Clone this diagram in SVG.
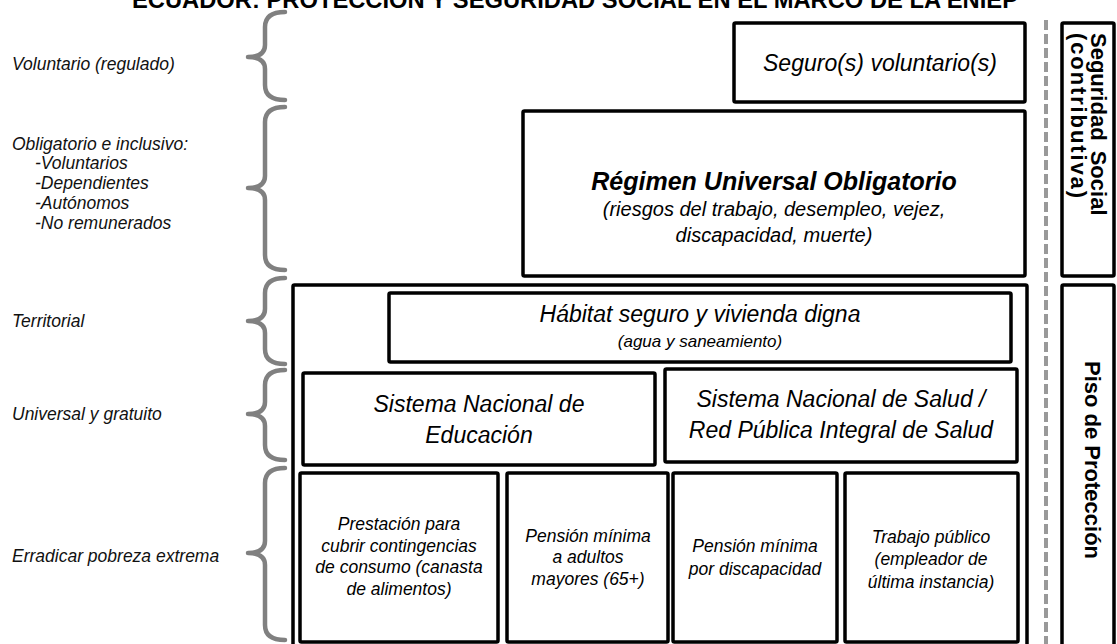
<svg xmlns="http://www.w3.org/2000/svg" width="1117" height="644" viewBox="0 0 1117 644">
<style>
.bx{fill:#fff;stroke:#000;stroke-width:3.5}
.t{font-family:"Liberation Sans",Arial,sans-serif;font-style:italic;fill:#000}
.lbl{font-family:"Liberation Sans",Arial,sans-serif;font-style:italic;font-size:17.5px;fill:#111}
.br{fill:none;stroke:#808080;stroke-width:4.5;stroke-linecap:round;stroke-linejoin:round}
.vt{font-family:"Liberation Sans",Arial,sans-serif;font-weight:bold;font-size:22px;fill:#000}
.m{text-anchor:middle}
</style>
<rect width="1117" height="644" fill="#fff"/>
<text x="132" y="8" font-family="'Liberation Sans',Arial,sans-serif" font-weight="bold" font-size="23.5" textLength="886" lengthAdjust="spacingAndGlyphs">ECUADOR: PROTECCIÓN Y SEGURIDAD SOCIAL EN EL MARCO DE LA ENIEP</text>

<g id="labels">
<text class="lbl" x="12" y="70">Voluntario (regulado)</text>
<text class="lbl" x="12" y="150">Obligatorio e inclusivo:</text>
<text class="lbl" x="35" y="169">-Voluntarios</text>
<text class="lbl" x="35" y="189">-Dependientes</text>
<text class="lbl" x="35" y="209">-Autónomos</text>
<text class="lbl" x="35" y="229">-No remunerados</text>
<text class="lbl" x="12" y="327">Territorial</text>
<text class="lbl" x="12" y="420">Universal y gratuito</text>
<text class="lbl" x="12" y="562">Erradicar pobreza extrema</text>
</g>

<g id="braces">
<path class="br" d="M285,12 Q265,12 265,27 L265,45 Q265,57 248,57 Q265,57 265,69 L265,85 Q265,100 285,100"/>
<path class="br" d="M285,107 Q265,107 265,122 L265,176 Q265,188 248,188 Q265,188 265,200 L265,255 Q265,270 285,270"/>
<path class="br" d="M285,278 Q265,278 265,293 L265,309 Q265,321 248,321 Q265,321 265,333 L265,349 Q265,364 285,364"/>
<path class="br" d="M285,370 Q265,370 265,385 L265,402 Q265,414 248,414 Q265,414 265,426 L265,445 Q265,460 285,460"/>
<path class="br" d="M285,468 Q265,468 265,483 L265,541 Q265,553 248,553 Q265,553 265,565 L265,625 Q265,640 285,640"/>
</g>

<g id="connectors">
<line x1="1046" y1="20" x2="1046" y2="650" stroke="#999" stroke-width="4" stroke-dasharray="10 4"/>
</g>

<g id="seguro-voluntario">
<rect class="bx" x="734" y="23" width="291" height="79" rx="1.5"/>
<text class="t m" x="880" y="71" font-size="23">Seguro(s) voluntario(s)</text>
</g>

<g id="regimen-universal">
<rect class="bx" x="523" y="111" width="502" height="165" rx="1.5"/>
<text class="t m" x="774" y="190" font-size="25" font-weight="bold">Régimen Universal Obligatorio</text>
<text class="t m" x="774" y="216" font-size="20">(riesgos del trabajo, desempleo, vejez,</text>
<text class="t m" x="774" y="242" font-size="20">discapacidad, muerte)</text>
</g>

<g id="piso-frame">
<rect class="bx" x="293" y="285" width="734" height="370" rx="1.5"/>
</g>

<g id="habitat">
<rect class="bx" x="389" y="293" width="622" height="69" rx="1.5"/>
<text class="t m" x="700" y="322" font-size="23">Hábitat seguro y vivienda digna</text>
<text class="t m" x="700" y="347" font-size="17">(agua y saneamiento)</text>
</g>

<g id="educacion">
<rect class="bx" x="303" y="373" width="352" height="92" rx="1.5"/>
<text class="t m" x="479" y="412" font-size="23">Sistema Nacional de</text>
<text class="t m" x="479" y="443" font-size="23">Educación</text>
</g>

<g id="salud">
<rect class="bx" x="665" y="369" width="352" height="93" rx="1.5"/>
<text class="t m" x="841" y="407" font-size="23">Sistema Nacional de Salud /</text>
<text class="t m" x="841" y="438" font-size="23">Red Pública Integral de Salud</text>
</g>

<g id="prestacion">
<rect class="bx" x="300" y="473" width="198" height="169" rx="1.5"/>
<text class="t m" x="399" y="530" font-size="17.5">Prestación para</text>
<text class="t m" x="399" y="552" font-size="17.5">cubrir contingencias</text>
<text class="t m" x="399" y="573" font-size="17.5">de consumo (canasta</text>
<text class="t m" x="399" y="595" font-size="17.5">de alimentos)</text>
</g>

<g id="pension-adultos">
<rect class="bx" x="507" y="473" width="161" height="169" rx="1.5"/>
<text class="t m" x="588" y="542" font-size="17.5">Pensión mínima</text>
<text class="t m" x="588" y="563" font-size="17.5">a adultos</text>
<text class="t m" x="588" y="585" font-size="17.5">mayores (65+)</text>
</g>

<g id="pension-discapacidad">
<rect class="bx" x="673" y="473" width="164" height="169" rx="1.5"/>
<text class="t m" x="755" y="552" font-size="17.5">Pensión mínima</text>
<text class="t m" x="755" y="575" font-size="17.5">por discapacidad</text>
</g>

<g id="trabajo-publico">
<rect class="bx" x="845" y="473" width="173" height="169" rx="1.5"/>
<text class="t m" x="931" y="543" font-size="17.5">Trabajo público</text>
<text class="t m" x="931" y="565" font-size="17.5">(empleador de</text>
<text class="t m" x="931" y="588" font-size="17.5">última instancia)</text>
</g>

<g id="seguridad-social">
<rect class="bx" x="1062" y="23" width="52" height="253" rx="1.5"/>
<text class="vt" transform="translate(1091,33) rotate(90)" word-spacing="4">Seguridad Social</text>
<text class="vt" transform="translate(1071,33) rotate(90)" textLength="165" lengthAdjust="spacing">(contributiva)</text>
</g>

<g id="piso-proteccion">
<rect class="bx" x="1062" y="285" width="52" height="370" rx="1.5"/>
<text class="vt m" transform="translate(1085,460) rotate(90)" font-size="23">Piso de Protección</text>
</g>
</svg>
